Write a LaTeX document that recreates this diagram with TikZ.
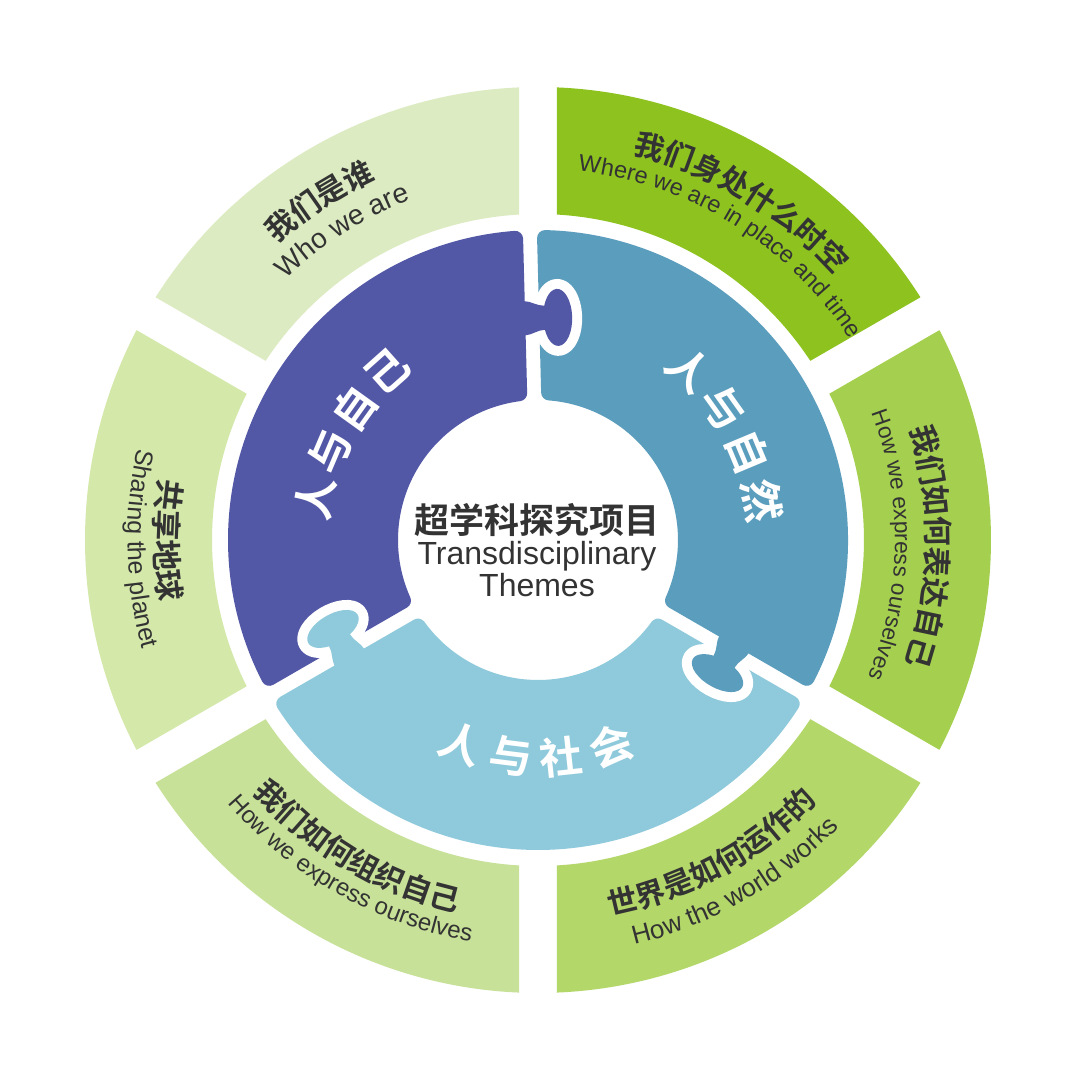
\documentclass[tikz,border=0pt]{standalone}
\usepackage{fontspec}
\setmainfont{Liberation Sans}
\newfontfamily\cjk{Noto Sans CJK SC}[BoldFont={Noto Sans CJK SC Bold}]
\usetikzlibrary{decorations.text}
\definecolor{cPurple}{HTML}{5257A6}
\definecolor{cTeal}{HTML}{5B9DBD}
\definecolor{cLtBlue}{HTML}{8ECADB}
\definecolor{segTL}{HTML}{DCEBC1}
\definecolor{segTR}{HTML}{8DC21F}
\definecolor{segR}{HTML}{A5CF4E}
\definecolor{segBR}{HTML}{B4D76A}
\definecolor{segBL}{HTML}{C7E198}
\definecolor{segL}{HTML}{D3E8A9}
\definecolor{txt}{HTML}{333333}
\newcommand\cnT{\cjk\bfseries\fontsize{30}{30}\selectfont\color{txt}}
\newcommand\cnL{\cjk\bfseries\fontsize{31}{31}\selectfont\color{txt}}
\newcommand\enTL{\fontsize{28}{28}\selectfont\color{txt}}
\newcommand\enTR{\fontsize{23.5}{23.5}\selectfont\color{txt}}
\newcommand\enR{\fontsize{22.7}{22.7}\selectfont\color{txt}}
\newcommand\enL{\fontsize{25}{25}\selectfont\color{txt}}
\newcommand\enBL{\fontsize{24}{24}\selectfont\color{txt}}
\newcommand\enBR{\fontsize{26}{26}\selectfont\color{txt}}
% outer ring segment: start angle, end angle, colour
\newcommand\oseg[3]{%
  \fill[#3] ({#1+asin(19/326)}:326pt) -- ({#1+asin(19/453)}:453pt)
    arc[start angle={#1+asin(19/453)}, end angle={#2-asin(19/453)}, radius=453pt]
    -- ({#2-asin(19/326)}:326pt)
    arc[start angle={#2-asin(19/326)}, end angle={#1+asin(19/326)}, radius=326pt] -- cycle;}
% puzzle piece: low angle, high angle, colour
\newcommand\pseg[3]{%
  \fill[#3, draw=#3, line width=16pt, line join=round]
    ({#1+asin(15/302)}:302pt)
    arc[start angle={#1+asin(15/302)}, end angle={#2-asin(15/302)}, radius=302pt]
    -- ({#2-asin(15/148)}:148pt)
    arc[start angle={#2-asin(15/148)}, end angle={#1+asin(15/148)}, radius=148pt] -- cycle;}
\def\knobpath{(-14,205) -- (-7,205) .. controls (-1,205) and (5,210) .. (12.36,209.96)
  arc[start angle=-155, end angle=155, x radius=14.5pt, y radius=28.5pt]
  .. controls (5,234) and (-1,239) .. (-7,239) -- (-14,239) -- cycle}
\newcommand\knob[2]{%
  \begin{scope}[rotate=#1-90]
    \begin{scope}
      \clip (-1,150) rectangle (80,300);
      \fill[white, draw=white, line width=20pt, line join=round] \knobpath;
    \end{scope}
    \fill[#2] \knobpath;
  \end{scope}}
\newcommand\arctextcw[4]{%
  \path[decorate, decoration={text along path, text align=center, text={|#3|#4}}]
    ({#1+40}:#2pt) arc[start angle={#1+40}, end angle={#1-40}, radius=#2pt];}
\newcommand\arctextccw[4]{%
  \path[decorate, decoration={text along path, text align=center, text={|#3|#4}}]
    ({#1-40}:#2pt) arc[start angle={#1-40}, end angle={#1+40}, radius=#2pt];}
\tikzset{
  inlab/.style={inner sep=0pt, text=white, font=\cjk\bfseries\fontsize{43}{43}\selectfont},
  ctrcn/.style={inner sep=0pt, text=txt, font=\cjk\bfseries\fontsize{35}{35}\selectfont},
  ctren/.style={inner sep=0pt, text=txt, font=\fontsize{32}{32}\selectfont}
}
\begin{document}
\begin{tikzpicture}[x=1pt,y=1pt]
\fill[white] (-538,-530) rectangle (542,540);
\useasboundingbox (-538,-530) rectangle (542,540);
% outer ring
\oseg{90}{150}{segTL}
\oseg{30}{90}{segTR}
\oseg{-30}{30}{segR}
\oseg{270}{330}{segBR}
\oseg{210}{270}{segBL}
\oseg{150}{210}{segL}
% puzzle ring
\pseg{91.5}{210}{cPurple}
\pseg{210}{330}{cLtBlue}
\pseg{330}{451.5}{cTeal}
\knob{91.5}{cPurple}
\knob{210}{cLtBlue}
\knob{330}{cTeal}
% outer texts
\arctextcw{122.8}{395}{\cnT}{我们是谁}
\arctextcw{122.3}{363}{\enTL}{Who we are}
\arctextcw{59}{397.5}{\cnT}{我们身处什么时空}
\arctextcw{58.3}{371}{\enTR}{Where we are in place and time}
\arctextcw{-1}{388.5}{\cnT}{我们如何表达自己}
\arctextcw{-0.8}{357}{\enR}{How we express ourselves}
\arctextccw{180}{383.5}{\cnL}{共享地球}
\arctextccw{181.3}{410.5}{\enL}{Sharing the planet}
\arctextccw{239.6}{380.5}{\cnT}{我们如何组织自己}
\arctextccw{240.4}{407}{\enBL}{How we express ourselves}
\arctextccw{298.9}{382.5}{\cnT}{世界是如何运作的}
\arctextccw{299.9}{416}{\enBR}{How the world works}
% inner labels
\foreach \ch/\ang [count=\i] in {人/169.5, 与/156.9, 自/144.3, 己/131.7}
  \node[inlab, rotate=\ang-90] (self\i) at (\ang:226pt) {\ch};
\foreach \ch/\ang [count=\i] in {人/48.3, 与/35.5, 自/22.7, 然/9.9}
  \node[inlab, rotate=\ang-90] (nat\i) at (\ang:228pt) {\ch};
\foreach \ch/\ang [count=\i] in {人/249.4, 与/262.8, 社/276.2, 会/289.6}
  \node[inlab, rotate=\ang+90] (soc\i) at (\ang:218pt) {\ch};
% centre
\node[ctrcn] (title) at (-1,20) {超学科探究项目};
\node[ctren, anchor=base] (en1) at (-1,-25) {Transdisciplinary};
\node[ctren, anchor=base] (en2) at (-1,-57) {Themes};
\end{tikzpicture}
\end{document}
